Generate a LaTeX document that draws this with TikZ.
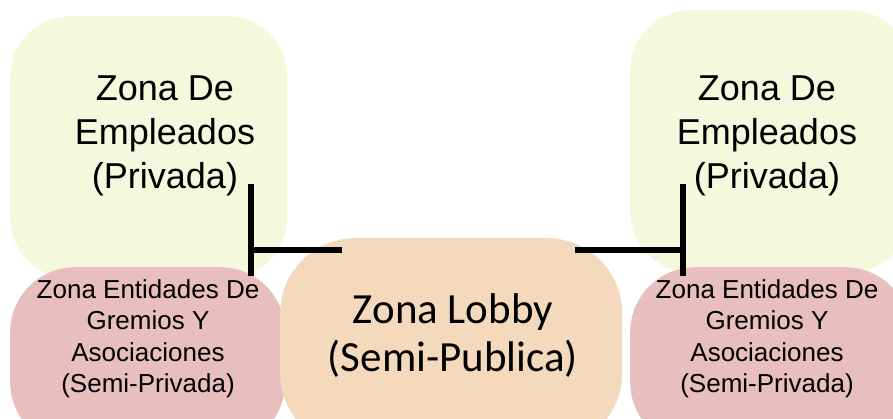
\documentclass[tikz,border=0pt]{standalone}
\usepackage{fontspec}
\setmainfont{Liberation Sans}
\newfontfamily\lobbyfont{Carlito}
\definecolor{empY}{HTML}{F6F8DE}
\definecolor{gremP}{HTML}{E8BEBE}
\definecolor{lobbyO}{HTML}{F4D9BC}
\tikzset{
  zonebox/.style={rectangle, draw=none, inner sep=0pt, anchor=north west},
  emptxt/.style={align=center, font=\fontsize{36}{44}\selectfont, inner sep=0pt},
  gremtxt/.style={align=center, font=\fontsize{26}{31.5}\selectfont, inner sep=0pt},
  lobbytxt/.style={align=center, font=\lobbyfont\fontsize{43}{48}\selectfont, inner sep=0pt},
  tbar/.style={line width=6pt, black}
}
\begin{document}
\begin{tikzpicture}[x=1pt,y=-1pt]
\useasboundingbox (0,0) rectangle (893,419);
\begin{scope}
\clip (0,0) rectangle (893,419);
% yellow boxes
\node[zonebox, fill=empY, rounded corners=60pt, minimum width=277pt, minimum height=262pt] (empL) at (10,16) {};
\node[zonebox, fill=empY, rounded corners=60pt, minimum width=280pt, minimum height=262pt] (empR) at (630,10) {};
% pink boxes
\node[zonebox, fill=gremP, rounded corners=65pt, minimum width=275pt, minimum height=180pt] (gremL) at (10,267) {};
\node[zonebox, fill=gremP, rounded corners=65pt, minimum width=280pt, minimum height=180pt] (gremR) at (630,267) {};
% lobby
\node[zonebox, fill=lobbyO, rounded corners=75pt, minimum width=342pt, minimum height=210pt] (lobby) at (280,238) {};
\end{scope}
% texts
\node[emptxt] (empLt) at (165,136) {Zona De\\Empleados\\(Privada)};
\node[emptxt] (empRt) at (767,136) {Zona De\\Empleados\\(Privada)};
\node[gremtxt] (gremLt) at (148,339) {Zona Entidades De\\Gremios Y\\Asociaciones\\(Semi-Privada)};
\node[gremtxt] (gremRt) at (767,339) {Zona Entidades De\\Gremios Y\\Asociaciones\\(Semi-Privada)};
\node[lobbytxt] (lobbyt) at (453,336) {Zona Lobby\\(Semi-Publica)};
% connectors
\coordinate (lTop) at (251,184);
\coordinate (lBot) at (251,276);
\coordinate (lMid) at (251,250);
\coordinate (lEnd) at (342,250);
\coordinate (rTop) at (683,184);
\coordinate (rBot) at (683,276);
\coordinate (rMid) at (683,250);
\coordinate (rEnd) at (575,250);
\draw[tbar] (lTop) -- (lBot);
\draw[tbar] (lMid) -- (lEnd);
\draw[tbar] (rTop) -- (rBot);
\draw[tbar] (rMid) -- (rEnd);
\end{tikzpicture}
\end{document}
